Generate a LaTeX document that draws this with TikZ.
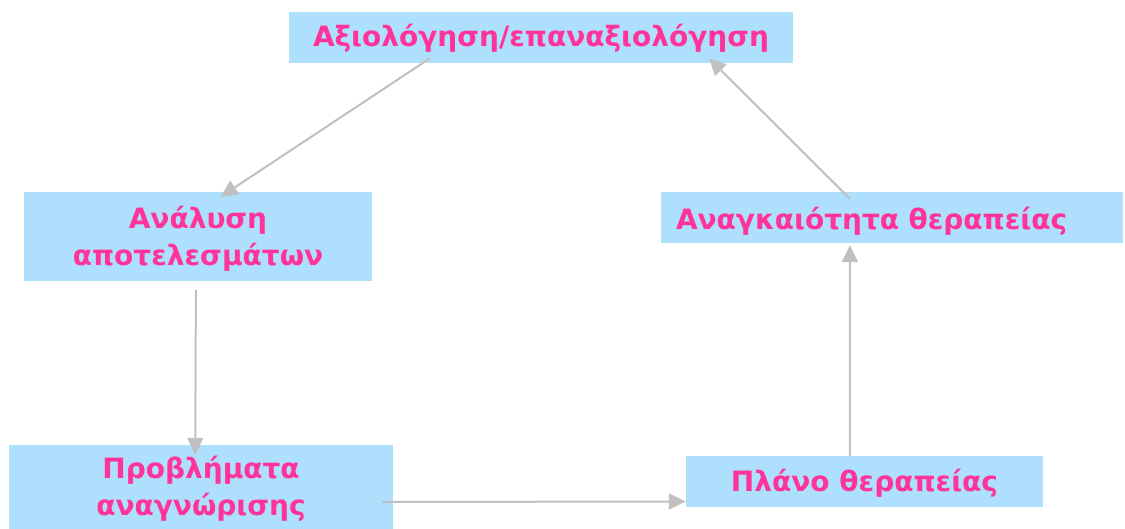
\documentclass[tikz,border=0pt]{standalone}
\usepackage{fontspec}
\setmainfont{DejaVu Sans}
\usetikzlibrary{arrows.meta,calc}
\definecolor{boxblue}{HTML}{AEDFFC}
\definecolor{txtpink}{HTML}{FF3399}
\definecolor{arrgray}{HTML}{C0C0C0}
\newcommand{\lowtext}[2][3pt]{\raisebox{-#1}[\height][\depth]{\begin{tabular}{@{}c@{}}#2\end{tabular}}}
\tikzset{
  box/.style={fill=boxblue, draw=none, inner sep=0pt, align=center,
    text=txtpink, font=\bfseries\fontsize{28}{37}\selectfont},
  conn/.style={draw=arrgray, line width=2pt, -{Triangle[length=17pt,width=16pt]}}
}
\begin{document}
\begin{tikzpicture}[x=1pt,y=1pt]
\useasboundingbox (0,0) rectangle (1125,-529);
\node[box, minimum width=504pt, minimum height=51pt] (eval) at (541,-37.5) {\lowtext[2pt]{Αξιολόγηση/επαναξιολόγηση}};
\node[box, minimum width=348pt, minimum height=89pt] (anal) at (198,-236.5) {\lowtext{Ανάλυση\\αποτελεσμάτων}};
\node[box, minimum width=462pt, minimum height=51pt, text width=432pt, align=left] (need) at (892,-217.5) {\raisebox{-4pt}[\height][\depth]{Αναγκαιότητα θεραπείας}};
\node[box, minimum width=384pt, minimum height=84pt] (prob) at (201,-487) {\lowtext{Προβλήματα\\αναγνώρισης}};
\node[box, minimum width=357pt, minimum height=51pt] (plan) at (864.5,-481.5) {\lowtext{Πλάνο θεραπείας}};
% connector end points
\coordinate (e1s) at ($(eval.south west)!0.28!(eval.south east)+(0,5)$);
\coordinate (a1t) at ($(anal.north west)!0.565!(anal.north east)+(0,-5)$);
\coordinate (a2s) at ($(anal.south west)!0.494!(anal.south east)+(0,-9)$);
\coordinate (p1t) at ($(prob.north west)!0.485!(prob.north east)+(0,-10)$);
\coordinate (p2s) at ($(prob.east)+(-11,-15)$);
\coordinate (l1t) at ($(plan.west)+(0,-20)$);
\coordinate (l2s) at ($(plan.north west)!0.459!(plan.north east)$);
\coordinate (n1t) at ($(need.south west)!0.409!(need.south east)+(0,-2)$);
\coordinate (n2s) at ($(need.north west)!0.409!(need.north east)+(0,-7)$);
\coordinate (e2t) at ($(eval.south west)!0.833!(eval.south east)+(0,5)$);
\draw[conn] (e1s) -- (a1t);
\draw[conn] (a2s) -- (p1t);
\draw[conn] (p2s) -- (l1t);
\draw[conn] (l2s) -- (n1t);
\draw[conn] (n2s) -- (e2t);
\end{tikzpicture}
\end{document}
